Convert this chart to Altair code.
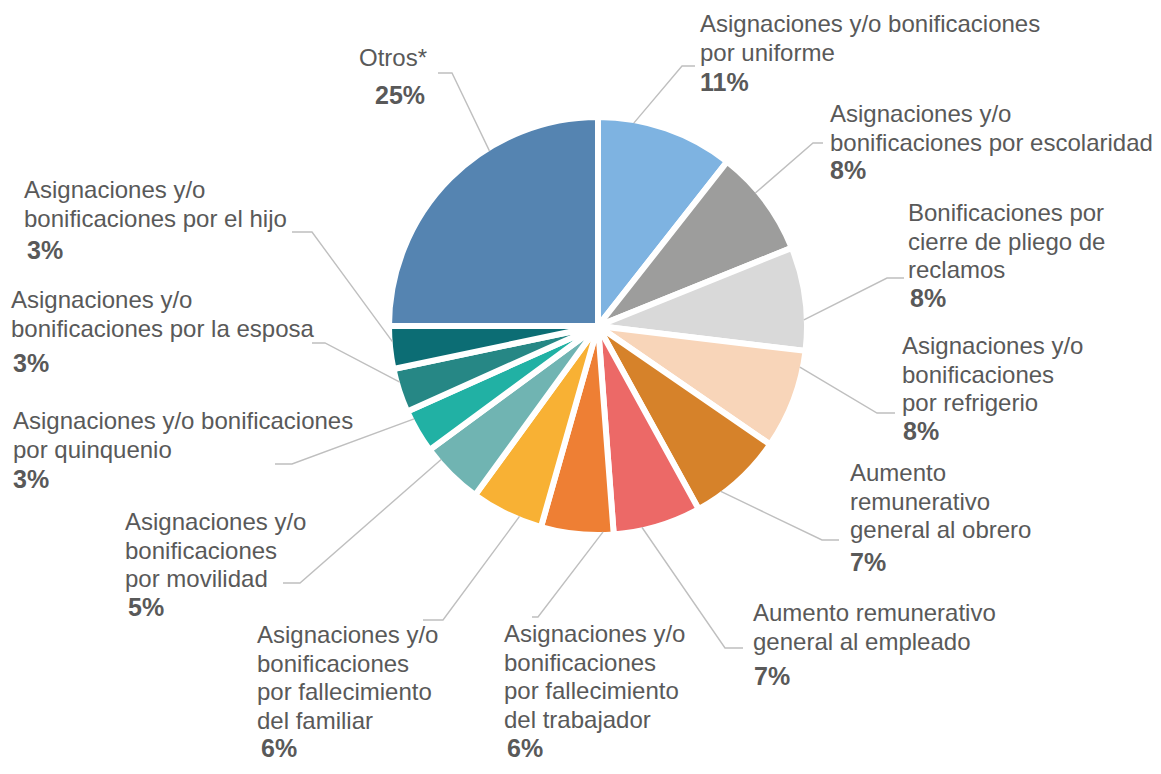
import math
import altair as alt
import pandas as pd

# ---------------- data ----------------
categories = [
    "Asignaciones y/o bonificaciones por uniforme",
    "Asignaciones y/o bonificaciones por escolaridad",
    "Bonificaciones por cierre de pliego de reclamos",
    "Asignaciones y/o bonificaciones por refrigerio",
    "Aumento remunerativo general al obrero",
    "Aumento remunerativo general al empleado",
    "Asignaciones y/o bonificaciones por fallecimiento del trabajador",
    "Asignaciones y/o bonificaciones por fallecimiento del familiar",
    "Asignaciones y/o bonificaciones por movilidad",
    "Asignaciones y/o bonificaciones por quinquenio",
    "Asignaciones y/o bonificaciones por la esposa",
    "Asignaciones y/o bonificaciones por el hijo",
    "Otros*",
]
shares = [10.6, 8.3, 8.0, 7.7, 7.4, 6.8, 5.6, 5.6, 4.9, 3.4, 3.4, 3.3, 25.0]

label_text = [
    "Asignaciones y/o bonificaciones\npor uniforme",
    "Asignaciones y/o\nbonificaciones por escolaridad",
    "Bonificaciones por\ncierre de pliego de\nreclamos",
    "Asignaciones y/o\nbonificaciones\npor refrigerio",
    "Aumento\nremunerativo\ngeneral al obrero",
    "Aumento remunerativo\ngeneral al empleado",
    "Asignaciones y/o\nbonificaciones\npor fallecimiento\ndel trabajador",
    "Asignaciones y/o\nbonificaciones\npor fallecimiento\ndel familiar",
    "Asignaciones y/o\nbonificaciones\npor movilidad",
    "Asignaciones y/o bonificaciones\npor quinquenio",
    "Asignaciones y/o\nbonificaciones por la esposa",
    "Asignaciones y/o\nbonificaciones por el hijo",
    "Otros*",
]

# ---------------- style ----------------
colors = [
    "#7EB3E1", "#9D9D9C", "#D9D9D9", "#F8D5B9", "#D6822A", "#EC6967",
    "#EE7F34", "#F8B134", "#70B4B2", "#21B1A4", "#268785", "#0C6D74", "#5584B1",
]
FONT = "Liberation Sans, Arial, sans-serif"
TEXT_COLOR = "#595959"
LINE_COLOR = "#BFBFBF"

# ---------------- layout (page pixels) ----------------
M = 8                      # page margin
W, H = 1145, 756           # drawing area
CX, CY = 598, 326          # pie centre on the page
PIE_R = 209                # outer radius (white border eats ~3px)
EDGE_R = 206               # where leader lines touch the pie

label_pos = [(700, 32), (830, 122), (908, 221), (902, 354), (850, 481), (753, 621),
             (504, 642), (257, 643), (125, 530), (13, 429), (11, 308), (24, 198), (359, 66)]
pct_pos = [(700, 91), (830, 179), (910, 307), (903, 440), (850, 571), (754, 685),
           (507, 757), (261, 757), (128, 616), (13, 488), (13, 372), (27, 259), (375, 104)]
leader_angle = [10.0, 49.8, 88.3, 101.5, 143.4, 167.7, 178.6, 202.4, 229.6, 243.2, 254.2, 265.6, 328.2]
leader_bends = [
    [(682, 66), (695, 66)],
    [(813, 143), (823, 143)],
    [(887, 278), (904, 278)],
    [(877, 413), (895, 413)],
    [(822, 540), (839, 540)],
    [(725, 648), (743, 648)],
    [(538, 617), (532, 617)],
    [(443, 620), (423, 620)],
    [(300, 583), (283, 583)],
    [(292, 464), (275, 464)],
    [(325, 343), (312, 343)],
    [(312, 232), (292, 232)],
    [(452, 73), (438, 73)],
]

# ---------------- tables ----------------
pie_df = pd.DataFrame({"cat": categories, "share": shares, "idx": list(range(len(categories)))})

lab_df = pd.DataFrame({
    "cat": categories,
    "share": shares,
    "body": label_text,
    "lx": [p[0] - M for p in label_pos],
    "ly": [p[1] - M for p in label_pos],
    "px": [p[0] - M for p in pct_pos],
    "py": [p[1] - M for p in pct_pos],
})

rows = []
for i, (ang, bends) in enumerate(zip(leader_angle, leader_bends)):
    a = math.radians(ang)
    pts = [(CX + EDGE_R * math.sin(a), CY - EDGE_R * math.cos(a))] + bends
    for k, (x, y) in enumerate(pts):
        rows.append({"cat": categories[i], "k": k, "x": x - M, "y": y - M})
lead_df = pd.DataFrame(rows)

XS = alt.Scale(domain=[0, W], nice=False, zero=False)
YS = alt.Scale(domain=[0, H], nice=False, zero=False, reverse=True)

pie = alt.Chart(pie_df).mark_arc(
    outerRadius=PIE_R, stroke="white", strokeWidth=6, strokeJoin="round"
).encode(
    theta=alt.Theta("share:Q", stack=True),
    color=alt.Color("cat:N", scale=alt.Scale(domain=categories, range=colors), legend=None),
    order=alt.Order("idx:Q"),
    x=alt.XDatum(datum=CX - M, type="quantitative", scale=XS, axis=None),
    y=alt.YDatum(datum=CY - M, type="quantitative", scale=YS, axis=None),
)

leaders = alt.Chart(lead_df).mark_line(color=LINE_COLOR, strokeWidth=1.4).encode(
    x=alt.X("x:Q", scale=XS, axis=None),
    y=alt.Y("y:Q", scale=YS, axis=None),
    detail="cat:N",
    order="k:Q",
)

body = alt.Chart(lab_df).mark_text(
    align="left", baseline="alphabetic", lineBreak="\n", lineHeight=28.5,
    fontSize=24, font=FONT, color=TEXT_COLOR,
).encode(
    x=alt.X("lx:Q", scale=XS, axis=None),
    y=alt.Y("ly:Q", scale=YS, axis=None),
    text="body:N",
)

pct = alt.Chart(lab_df).transform_calculate(
    pct="format(round(datum.share), 'd') + '%'"
).mark_text(
    align="left", baseline="alphabetic", fontSize=25, fontWeight="bold",
    font=FONT, color=TEXT_COLOR,
).encode(
    x=alt.X("px:Q", scale=XS, axis=None),
    y=alt.Y("py:Q", scale=YS, axis=None),
    text="pct:N",
)

chart = alt.layer(pie, leaders, body, pct).properties(
    width=W, height=H, padding=0, autosize="none"
).configure_view(stroke=None)

chart.save("out.html", embed_options={"renderer": "svg", "actions": False})
